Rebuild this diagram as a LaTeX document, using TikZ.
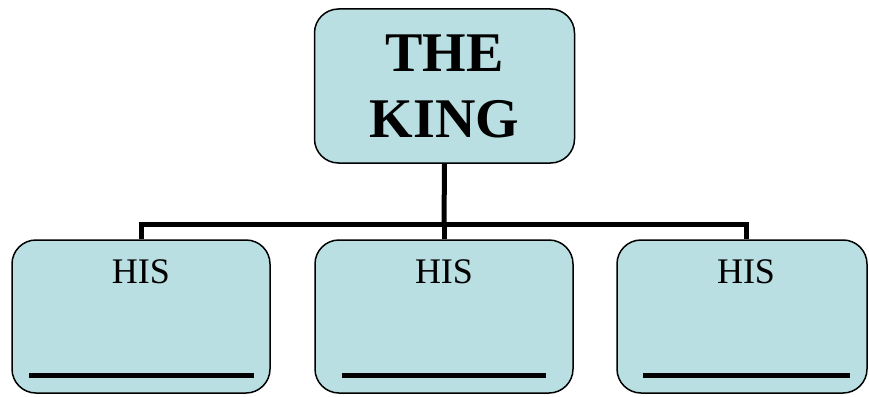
\documentclass[tikz,border=0pt]{standalone}
\usepackage{fontspec}
\setmainfont{Liberation Serif}
\definecolor{boxfill}{RGB}{185,223,227}
\begin{document}
\begin{tikzpicture}[x=1pt,y=-1pt,
  box/.style={draw=black, line width=1.5pt, fill=boxfill, rounded corners=24pt, inner sep=0pt},
  link/.style={line width=5pt},
  blank/.style={line width=5pt},
  histext/.style={anchor=base, font=\fontsize{36}{40}\selectfont, inner sep=0pt}]
\useasboundingbox (0,0) rectangle (869,396);
% top box
\node[box, minimum width=260pt, minimum height=154pt, align=center,
      font=\fontsize{56}{66}\selectfont\bfseries] (king) at (444.5,86) {THE\\KING};
% bottom boxes
\node[box, minimum width=258pt, minimum height=153pt] (b1) at (141,316.5) {};
\node[box, minimum width=258pt, minimum height=153pt] (b2) at (444,316.5) {};
\node[box, minimum width=250pt, minimum height=153pt] (b3) at (742,316.5) {};
% connectors
\coordinate (j) at (444,224);
\coordinate (l) at (141,224);
\coordinate (r) at (746,224);
\draw[link] (king.south) -- (j);
\draw[link, line cap=rect] (l) -- (r);
\draw[link] (l) -- (b1.north);
\draw[link] (j) -- (b2.north);
\draw[link] (r) -- (b3.north -| r);
% texts
\node[histext] (t1) at (141,283) {HIS};
\node[histext] (t2) at (444,283) {HIS};
\node[histext] (t3) at (746,283) {HIS};
% blanks
\coordinate (u1a) at (29,375); \coordinate (u1b) at (254,375);
\coordinate (u2a) at (342,375); \coordinate (u2b) at (546,375);
\coordinate (u3a) at (643,375); \coordinate (u3b) at (850,375);
\draw[blank] (u1a) -- (u1b);
\draw[blank] (u2a) -- (u2b);
\draw[blank] (u3a) -- (u3b);
\end{tikzpicture}
\end{document}
